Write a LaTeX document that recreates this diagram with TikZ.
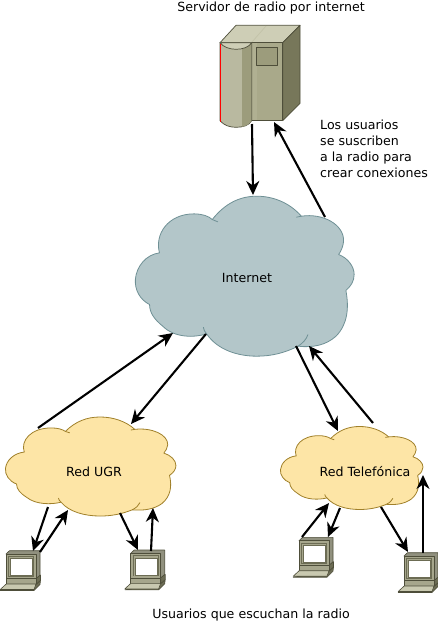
\documentclass[tikz,border=0pt]{standalone}
\usepackage{fontspec}
\setmainfont{DejaVu Sans}
\usetikzlibrary{arrows.meta}
\definecolor{cloudblue}{HTML}{B3C6C9}
\definecolor{cloudblueline}{HTML}{6F9095}
\definecolor{cloudyellow}{HTML}{FDE5A6}
\definecolor{cloudyellowline}{HTML}{A0802A}
\definecolor{srvtop}{HTML}{CECEB6}
\definecolor{srvfront}{HTML}{A9A98A}
\definecolor{srvlight}{HTML}{B0B092}
\definecolor{srvside}{HTML}{77775A}
\definecolor{srvcyl}{HTML}{B9B9A0}
\definecolor{srvcyldark}{HTML}{9C9C7C}
\definecolor{srvline}{HTML}{4E4E3A}
\definecolor{pcface}{HTML}{A6A68C}
\definecolor{pcdark}{HTML}{6C6C54}
\definecolor{pckey}{HTML}{C9C9B0}
\tikzset{
  lbl/.style={font=\fontsize{12.6}{16}\selectfont,inner sep=0pt},
  link/.style={line width=2.1pt,-{Stealth[length=14pt,width=13pt,inset=4.5pt]}},
  srv/.style={draw=srvline,line width=0.7pt,line join=round},
  pcpart/.style={draw=srvline,line width=0.6pt,line join=round},
  pics/cloud/.style 2 args={code={
    \path[fill=#1,draw=#2,line width=0.8pt,line join=round]
      (245,85) .. controls (285,35) and (330,15) .. (380,15)
      .. controls (430,15) and (480,35) .. (515,75)
      .. controls (580,65) and (645,100) .. (643,150)
      .. controls (642,165) and (635,180) .. (628,190)
      .. controls (655,200) and (675,225) .. (675,250)
      .. controls (675,270) and (665,285) .. (650,298)
      .. controls (660,350) and (655,400) .. (620,435)
      .. controls (590,462) and (550,470) .. (505,465)
      .. controls (465,485) and (425,495) .. (380,495)
      .. controls (320,495) and (260,475) .. (228,428)
      .. controls (190,440) and (130,440) .. (95,405)
      .. controls (70,385) and (55,365) .. (55,340)
      .. controls (25,325) and (10,295) .. (12,265)
      .. controls (15,225) and (45,190) .. (85,185)
      .. controls (70,130) and (110,68) .. (190,68)
      .. controls (215,68) and (235,75) .. (245,85) -- cycle;
    \path[draw=#2,line width=0.8pt]
      (245,85) -- (262,92) (515,75) -- (500,78)
      (505,465) .. controls (520,455) and (530,445) .. (535,430)
      (228,428) .. controls (222,422) and (219,415) .. (218,408);
  }},
  pics/pc/.style={code={
    \path[pcpart,fill=pcdark!75!white] (0,0) -- (3.5,-3.3) -- (34,-3.3) -- (34,21) -- (30,25) -- cycle;
    \path[pcpart,fill=pcface] (0,0) rectangle (30,24.5);
    \path[fill=pcdark] (2,1.8) rectangle (28,23);
    \path[fill=pcface] (2.8,3) rectangle (27.2,22.3);
    \path[fill=white,draw=pcdark,line width=0.4pt] (4,4.5) rectangle (26,21.5);
    \path[pcpart,fill=pcdark] (30,24.5) -- (34.5,21) -- (34.5,26.5) -- (30,30.5) -- cycle;
    \path[pcpart,fill=pcface] (0,24.5) rectangle (30,30.5);
    \path[pcpart,fill=pcdark] (-5.8,36.5) -- (28,36.5) -- (34,30.5) -- (34.5,26.5) -- (30,30.5) -- cycle;
    \path[pcpart,fill=pckey] (-5.8,35.5) -- (0.2,30) -- (30,30) -- (28,35.5) -- cycle;
  }}
}
\begin{document}
\begin{tikzpicture}[x=1pt,y=-1pt]
\useasboundingbox (0,0) rectangle (438,622);
% server
\begin{scope}
  \path[srv,fill=srvtop] (220,42.7) -- (236,25.3) -- (300,25.3) -- (282.7,42.7) -- cycle;
  \path[srv,fill=srvside] (282.7,42.7) -- (300,25.3) -- (300,103.3) -- (282.7,120.7) -- cycle;
  \path[srv,fill=srvfront] (251.7,42.7) rectangle (282.7,120.7);
  \path[fill=srvlight] (251.7,43) rectangle (257,120.3);
  \path[draw=srvtop!70!srvfront,line width=0.7pt] (252,42) -- (266,26);
  \path[srv,fill=srvcyl] (220,42.7) -- (220,120.7) .. controls (224,125.5) and (230,127.3) .. (236,127.3) .. controls (243,127.3) and (249,125.5) .. (251.7,120.7) -- (251.7,42.7) -- cycle;
  \path[fill=srvcyldark] (242,48) -- (251.3,44) -- (251.3,120.7) .. controls (249,124.5) and (246,126) .. (242,126.8) -- cycle;
  \path[srv,fill=srvtop] (220,42.7) .. controls (223,47) and (230,49.3) .. (236,49.3) .. controls (243,49.3) and (249,47) .. (251.7,42.7) -- cycle;
  \path[draw=red,line width=1.3pt] (220.6,44) -- (220.6,121.5);
  \path[srv,line width=0.6pt,fill=srvcyldark] (256,47.3) rectangle (277.7,65.7);
\end{scope}
% clouds
\pic[shift={(131.4,191.2)},xscale=0.3300,yscale=0.3333] {cloud={cloudblue}{cloudblueline}};
\pic[shift={(2.4,413.9)},xscale=0.2571,yscale=0.2063] {cloud={cloudyellow}{cloudyellowline}};
\pic[shift={(277.9,423.9)},xscale=0.215,yscale=0.1729] {cloud={cloudyellow}{cloudyellowline}};
% labels
\node[lbl] (title) at (271,8) {Servidor de radio por internet};
\node[lbl,align=left,anchor=north west] (note) at (320,120) {Los usuarios\\se suscriben\\a la radio para\\crear conexiones};
\node[lbl] (internet) at (247,278) {Internet};
\node[lbl] (ugr) at (94,471.5) {Red UGR};
\node[lbl] (tel) at (365,471.5) {Red Telefónica};
\node[lbl] (users) at (251,615) {Usuarios que escuchan la radio};
% computers
\pic at (6,554) {pc};
\pic at (130.7,553.3) {pc};
\pic at (299,540.7) {pc};
\pic at (404,556) {pc};
% connector ends
\coordinate (srvDown) at (252,124);
\coordinate (netTop) at (253,195);
\coordinate (netOut) at (325,217);
\coordinate (srvIn) at (274,122);
\coordinate (ugrOut) at (38,428);
\coordinate (netInL) at (173,333);
\coordinate (netOutL) at (206,334);
\coordinate (ugrIn) at (131,424);
\coordinate (netOutR) at (296,346);
\coordinate (telIn) at (338,431);
\coordinate (telOut) at (373,423);
\coordinate (netInR) at (309,346);
\coordinate (ugrA) at (48,507);
\coordinate (pcAin) at (33,551);
\coordinate (pcAout) at (40,552);
\coordinate (ugrB) at (68,510);
\coordinate (ugrC) at (120,513);
\coordinate (pcBin) at (138,550);
\coordinate (pcBout) at (151,551);
\coordinate (ugrD) at (153,508);
\coordinate (pcCout) at (302,537);
\coordinate (telA) at (329,503);
\coordinate (telB) at (340,508);
\coordinate (pcCin) at (328,537);
\coordinate (telC) at (381,507);
\coordinate (pcDin) at (408,552);
\coordinate (pcDout) at (423,553);
\coordinate (telD) at (423,475);
% connectors
\draw[link] (srvDown) -- (netTop);
\draw[link] (netOut) -- (srvIn);
\draw[link] (ugrOut) -- (netInL);
\draw[link] (netOutL) -- (ugrIn);
\draw[link] (netOutR) -- (telIn);
\draw[link] (telOut) -- (netInR);
\draw[link] (ugrA) -- (pcAin);
\draw[link] (pcAout) -- (ugrB);
\draw[link] (ugrC) -- (pcBin);
\draw[link] (pcBout) -- (ugrD);
\draw[link] (pcCout) -- (telA);
\draw[link] (telB) -- (pcCin);
\draw[link] (telC) -- (pcDin);
\draw[link] (pcDout) -- (telD);
\end{tikzpicture}
\end{document}
